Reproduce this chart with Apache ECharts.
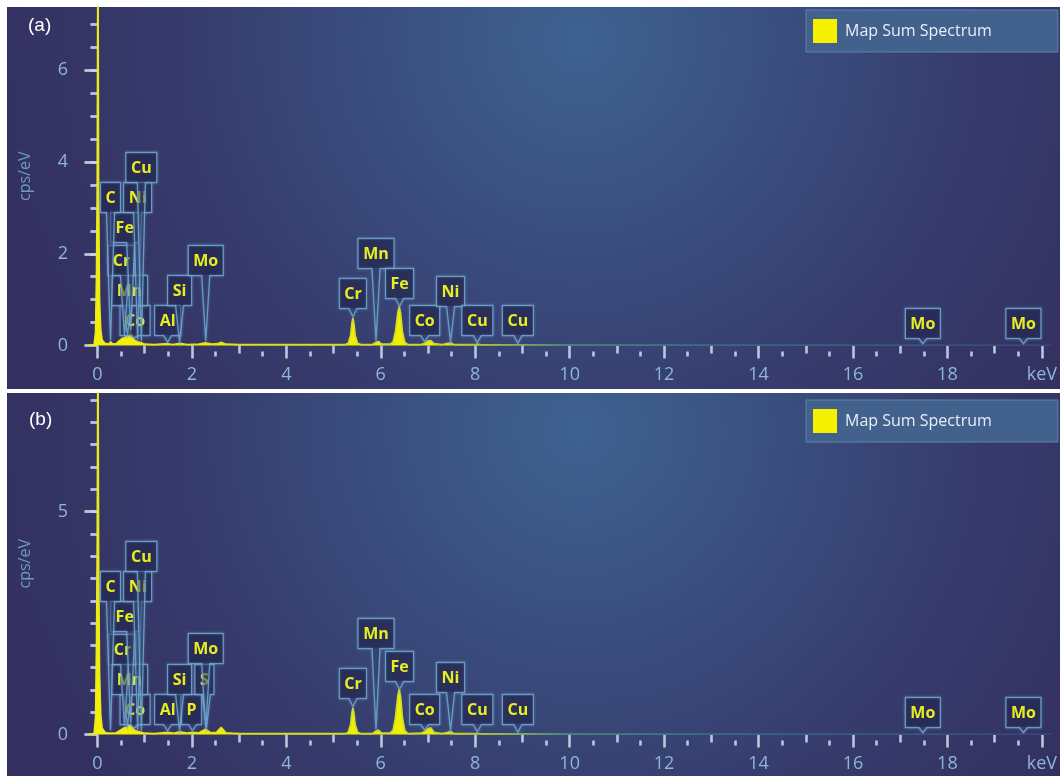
<!DOCTYPE html>
<html>
<head>
<meta charset="utf-8">
<script src="https://cdn.jsdelivr.net/npm/echarts@6/dist/echarts.min.js"></script>
<style>
  html, body { margin: 0; padding: 0; background: #ffffff; }
  #chart { width: 1060px; height: 776px; }
</style>
</head>
<body>
<div id="chart"></div>
<script>
// EDS spectra (cps/eV versus keV) for two map areas.
const seriesName = 'Map Sum Spectrum';

const spectrumA = [
  [-0.2, 0], [-0.07, 0.02], [-0.04, 0.3], [-0.02, 1.6], [-0.005, 3.6], [0.01, 9.5], [0.025, 3.4], [0.045, 1.0], [0.07, 0.35], [0.1, 0.12], [0.16, 0.05],
  [0.24, 0.03], [0.28, 0.08], [0.32, 0.03],
  [0.4, 0.04], [0.46, 0.1], [0.52, 0.15], [0.57, 0.17], [0.62, 0.2], [0.66, 0.24], [0.7, 0.3], [0.74, 0.2], [0.78, 0.12], [0.85, 0.08], [0.93, 0.06], [1.0, 0.03],
  [1.2, 0.02], [1.49, 0.04], [1.6, 0.02], [1.74, 0.05], [1.9, 0.02], [2.15, 0.03], [2.29, 0.06], [2.42, 0.03], [2.55, 0.04], [2.62, 0.07], [2.72, 0.03], [3.0, 0.02],
  [4.0, 0.02], [5.25, 0.02], [5.31, 0.05], [5.36, 0.22], [5.39, 0.5], [5.41, 0.6], [5.43, 0.5], [5.46, 0.22], [5.51, 0.05], [5.58, 0.02],
  [5.82, 0.02], [5.9, 0.07], [5.95, 0.09], [6.02, 0.03],
  [6.2, 0.03], [6.26, 0.08], [6.31, 0.3], [6.36, 0.72], [6.39, 0.85], [6.42, 0.72], [6.46, 0.3], [6.51, 0.07], [6.58, 0.02],
  [6.85, 0.02], [6.93, 0.05], [7.0, 0.1], [7.06, 0.11], [7.13, 0.04], [7.3, 0.02], [7.42, 0.05], [7.48, 0.06], [7.55, 0.02],
  [8.0, 0.02], [8.05, 0.03], [8.12, 0.015], [8.9, 0.015], [10, 0.01], [13, 0.008], [20.2, 0.005]
];

const spectrumB = [
  [-0.2, 0], [-0.07, 0.02], [-0.04, 0.4], [-0.02, 2.1], [-0.005, 4.3], [0.01, 9.5], [0.025, 4.0], [0.045, 1.4], [0.07, 0.45], [0.1, 0.14], [0.16, 0.05],
  [0.24, 0.03], [0.28, 0.06], [0.32, 0.03],
  [0.4, 0.04], [0.46, 0.08], [0.52, 0.12], [0.57, 0.15], [0.62, 0.16], [0.66, 0.19], [0.7, 0.23], [0.74, 0.16], [0.78, 0.1], [0.85, 0.07], [0.93, 0.05], [1.0, 0.03],
  [1.2, 0.02], [1.49, 0.05], [1.6, 0.03], [1.74, 0.06], [1.9, 0.03], [2.01, 0.05], [2.15, 0.04], [2.29, 0.12], [2.4, 0.04], [2.52, 0.05], [2.62, 0.16], [2.72, 0.04], [2.85, 0.03], [3.0, 0.02],
  [4.0, 0.02], [5.25, 0.02], [5.31, 0.05], [5.36, 0.22], [5.39, 0.5], [5.41, 0.6], [5.43, 0.5], [5.46, 0.22], [5.51, 0.05], [5.58, 0.02],
  [5.82, 0.02], [5.9, 0.08], [5.95, 0.1], [6.02, 0.03],
  [6.2, 0.03], [6.26, 0.1], [6.31, 0.38], [6.36, 0.86], [6.39, 1.02], [6.42, 0.86], [6.46, 0.38], [6.51, 0.09], [6.58, 0.02],
  [6.85, 0.03], [6.93, 0.07], [7.0, 0.13], [7.06, 0.15], [7.13, 0.05], [7.3, 0.02], [7.42, 0.05], [7.48, 0.07], [7.55, 0.02],
  [8.0, 0.02], [8.05, 0.03], [8.12, 0.015], [8.9, 0.015], [10, 0.01], [13, 0.008], [20.2, 0.005]
];

// Element lines identified in each spectrum (keV).
const elementsA = ['Co', 'Mn', 'Cr', 'Fe', 'Ni', 'C', 'Cu', 'Al', 'Si', 'Mo', 'Cr', 'Mn', 'Fe', 'Co', 'Ni', 'Cu', 'Cu', 'Mo', 'Mo'];
const lineKeVA  = [0.776, 0.637, 0.573, 0.705, 0.851, 0.277, 0.930, 1.486, 1.740, 2.293, 5.411, 5.899, 6.398, 6.930, 7.478, 8.046, 8.904, 17.48, 19.61];
const elementsB = ['Co', 'Mn', 'Cr', 'Fe', 'Ni', 'C', 'Cu', 'Al', 'P', 'Si', 'S', 'Mo', 'Cr', 'Mn', 'Fe', 'Co', 'Ni', 'Cu', 'Cu', 'Mo', 'Mo'];
const lineKeVB  = [0.776, 0.637, 0.573, 0.705, 0.851, 0.277, 0.930, 1.486, 2.013, 1.740, 2.307, 2.293, 5.411, 5.899, 6.398, 6.930, 7.478, 8.046, 8.904, 17.48, 19.61];

// Axis tick labels.
const xLabelValues = [0, 2, 4, 6, 8, 10, 12, 14, 16, 18, 20];
const yLabelValuesA = [0, 2, 4, 6];
const yLabelValuesB = [0, 5];

// Callout placement: box bottom height above the baseline and sideways nudge, in pixels.
const calloutLayoutA = {
  rise:  [10, 40, 70, 103, 133, 133, 163, 10, 40, 70, 37, 77, 47, 10, 39, 10, 10, 7, 7],
  shift: [1, 2, -3, -6, 0, 0, 0, 0, 0, 0, 0, 0, 0, 0, 0, 0, 0, 0, 0]
};
const calloutLayoutB = {
  rise:  [10, 40, 70, 103, 133, 133, 163, 10, 10, 40, 40, 71, 36, 86, 53, 10, 42, 10, 10, 7, 7],
  shift: [1, 2, -2, -6, 0, 0, 0, 0, -1, 0, -2, 0, 0, 0, 0, 0, 0, 0, 0, 0, 0]
};

function range(a, b, step) {
  const out = [];
  for (let v = a; v <= b + 1e-9; v += step) out.push(Math.round(v * 100) / 100);
  return out;
}

function interpAt(spec, x) {
  for (let i = 1; i < spec.length; i++) {
    if (spec[i][0] >= x) {
      const x0 = spec[i - 1][0], y0 = spec[i - 1][1], x1 = spec[i][0], y1 = spec[i][1];
      return y0 + (y1 - y0) * (x - x0) / (x1 - x0);
    }
  }
  return 0;
}

const FONT = '"Open Sans", "DejaVu Sans", sans-serif';
const measureCtx = document.createElement('canvas').getContext('2d');
function textWidth(t, size, weight) {
  measureCtx.font = (weight || 'normal') + ' ' + size + 'px ' + FONT;
  return measureCtx.measureText(t).width;
}

const tickColor = 'rgba(196,212,230,0.92)';
const labelColor = '#8fb6d8';

function xAxesFor(gridIndex) {
  const base = {
    type: 'value', gridIndex: gridIndex, min: -0.2, max: 20.2, position: 'bottom',
    axisLine: { show: false }, splitLine: { show: false }
  };
  return [
    Object.assign({}, base, {
      offset: 3,
      axisTick: { show: true, length: 13, customValues: range(0, 20, 2), lineStyle: { color: tickColor, width: 2.6 } },
      axisLabel: {
        show: true, customValues: xLabelValues, margin: 17, color: labelColor, fontSize: 18, fontFamily: FONT,
        formatter: function (v) { return v === 20 ? 'keV' : String(v); }
      }
    }),
    Object.assign({}, base, {
      offset: 4.5,
      axisTick: { show: true, length: 8, customValues: range(1, 19, 2), lineStyle: { color: tickColor, width: 2.6 } },
      axisLabel: { show: false }
    }),
    Object.assign({}, base, {
      offset: 6,
      axisTick: { show: true, length: 5, customValues: range(0.5, 19.5, 1), lineStyle: { color: tickColor, width: 2.6 } },
      axisLabel: { show: false }
    })
  ];
}

function yAxesFor(gridIndex, max, labels, minorMax) {
  const base = {
    type: 'value', gridIndex: gridIndex, min: 0, max: max, position: 'left', offset: 4,
    axisLine: { show: false }, splitLine: { show: false }
  };
  return [
    Object.assign({}, base, {
      name: 'cps/eV', nameLocation: 'middle', nameRotate: 90, nameGap: 51,
      nameTextStyle: { color: '#6b9bc4', fontSize: 16, fontFamily: FONT },
      axisTick: { show: true, length: 13, customValues: labels, lineStyle: { color: tickColor, width: 2.8 } },
      axisLabel: { show: true, customValues: labels, margin: 16, color: labelColor, fontSize: 18, fontFamily: FONT }
    }),
    Object.assign({}, base, {
      axisTick: { show: true, length: 7, customValues: range(0.5, minorMax, 0.5), lineStyle: { color: tickColor, width: 2.8 } },
      axisLabel: { show: false }
    })
  ];
}

function lineGradient() {
  return new echarts.graphic.LinearGradient(0, 0, 1, 0, [
    { offset: 0, color: '#eaea1c' },
    { offset: 0.38, color: '#c6d82e' },
    { offset: 0.5, color: '#4a8a86' },
    { offset: 0.65, color: '#3c6a80' },
    { offset: 1, color: '#37487a' }
  ]);
}
function areaGradient() {
  return new echarts.graphic.LinearGradient(0, 0, 1, 0, [
    { offset: 0, color: '#f4f000' },
    { offset: 0.42, color: '#eeee00' },
    { offset: 0.5, color: '#4a8a86' },
    { offset: 1, color: '#37487a' }
  ]);
}

function spectrumSeries(data, xi, yi) {
  return {
    name: seriesName, type: 'line', data: data, xAxisIndex: xi, yAxisIndex: yi,
    symbol: 'none', showSymbol: false, silent: true, z: 2,
    itemStyle: { color: '#f4f000' },
    lineStyle: { width: 1.6, color: lineGradient() },
    areaStyle: { color: areaGradient(), opacity: 1 }
  };
}

function calloutSeries(spec, names, kev, layout, xi, yi) {
  return {
    type: 'custom', xAxisIndex: xi, yAxisIndex: yi, z: 5, silent: true, clip: false,
    data: kev.map(function (k, i) { return [k, interpAt(spec, k), i]; }),
    encode: { x: 0, y: 1 },
    renderItem: function (params, api) {
      const i = api.value(2);
      const tip = api.coord([api.value(0), api.value(1)]);
      const base = api.coord([api.value(0), 0]);
      const name = names[i];
      const w = Math.round(textWidth(name, 16, 'bold') + 10);
      const h = 30;
      const cx = tip[0] + layout.shift[i];
      const bottom = base[1] - layout.rise[i];
      const top = bottom - h;
      const left = cx - w / 2, right = cx + w / 2;
      const tipY = tip[1] - 1.5;
      const pts = [[left, top], [right, top], [right, bottom]];
      if (tipY > bottom + 1) {
        const tx = Math.min(Math.max(tip[0], left + 5), right - 5);
        pts.push([tx + 4, bottom], [tip[0], tipY], [tx - 4, bottom]);
      }
      pts.push([left, bottom]);
      return {
        type: 'group',
        children: [
          {
            type: 'polygon', shape: { points: pts },
            style: {
              fill: 'rgba(30,30,70,0.45)', stroke: 'rgba(112,168,208,0.85)', lineWidth: 1.3,
              shadowBlur: 3, shadowColor: 'rgba(120,180,230,0.45)'
            }
          },
          {
            type: 'rect', shape: { x: left + 0.8, y: top + 0.8, width: w - 1.6, height: h - 1.6 },
            style: { fill: 'rgba(30,30,70,0.5)' }
          },
          {
            type: 'text',
            style: {
              text: name, x: cx, y: (top + bottom) / 2 + 1, fill: '#e6ee22',
              fontSize: 16, fontWeight: 'bold', fontFamily: FONT, align: 'center', verticalAlign: 'middle'
            }
          }
        ]
      };
    }
  };
}

function panelBackground(x, y, w, h, cx, cy) {
  return {
    type: 'rect', z: -100, silent: true,
    shape: { x: x, y: y, width: w, height: h },
    style: {
      fill: {
        type: 'radial', x: cx, y: cy, r: 620, global: true,
        colorStops: [
          { offset: 0, color: '#3e6290' },
          { offset: 0.3, color: '#3a5080' },
          { offset: 0.65, color: '#363b6c' },
          { offset: 1, color: '#332f5e' }
        ]
      }
    }
  };
}

function legendFor(top) {
  return {
    data: [{ name: seriesName, icon: 'rect', itemStyle: { color: '#f4f000' } }],
    left: 806, top: top,
    backgroundColor: '#42628d', borderColor: '#5f82ab', borderWidth: 1,
    padding: [9, 66, 9, 7],
    itemWidth: 24, itemHeight: 24,
    selectedMode: false,
    textStyle: { color: '#e8eef6', fontSize: 16, fontFamily: FONT, padding: [0, 0, 0, 3] }
  };
}

const chart = echarts.init(document.getElementById('chart'), null, { renderer: 'canvas' });

chart.setOption({
  animation: false,
  backgroundColor: '#ffffff',
  graphic: [
    panelBackground(7, 7, 1053, 382, 580, 40),
    panelBackground(7, 393, 1053, 383, 580, 430),
    { type: 'text', z: 100, left: 28, top: 16, style: { text: '(a)', fill: '#ffffff', fontSize: 19, fontFamily: '"Liberation Sans", Arial, sans-serif' } },
    { type: 'text', z: 100, left: 29, top: 410, style: { text: '(b)', fill: '#ffffff', fontSize: 19, fontFamily: '"Liberation Sans", Arial, sans-serif' } }
  ],
  legend: [legendFor(10), legendFor(400)],
  grid: [
    { left: 88, right: 0, top: 7, height: 338.5, containLabel: false },
    { left: 88, right: 0, top: 393, height: 341.5, containLabel: false }
  ],
  xAxis: xAxesFor(0).concat(xAxesFor(1)),
  yAxis: yAxesFor(0, 7.38, yLabelValuesA, 7).concat(yAxesFor(1, 7.66, yLabelValuesB, 7.5)),
  series: [
    spectrumSeries(spectrumA, 0, 0),
    spectrumSeries(spectrumB, 3, 2),
    calloutSeries(spectrumA, elementsA, lineKeVA, calloutLayoutA, 0, 0),
    calloutSeries(spectrumB, elementsB, lineKeVB, calloutLayoutB, 3, 2)
  ]
});
</script>
</body>
</html>
